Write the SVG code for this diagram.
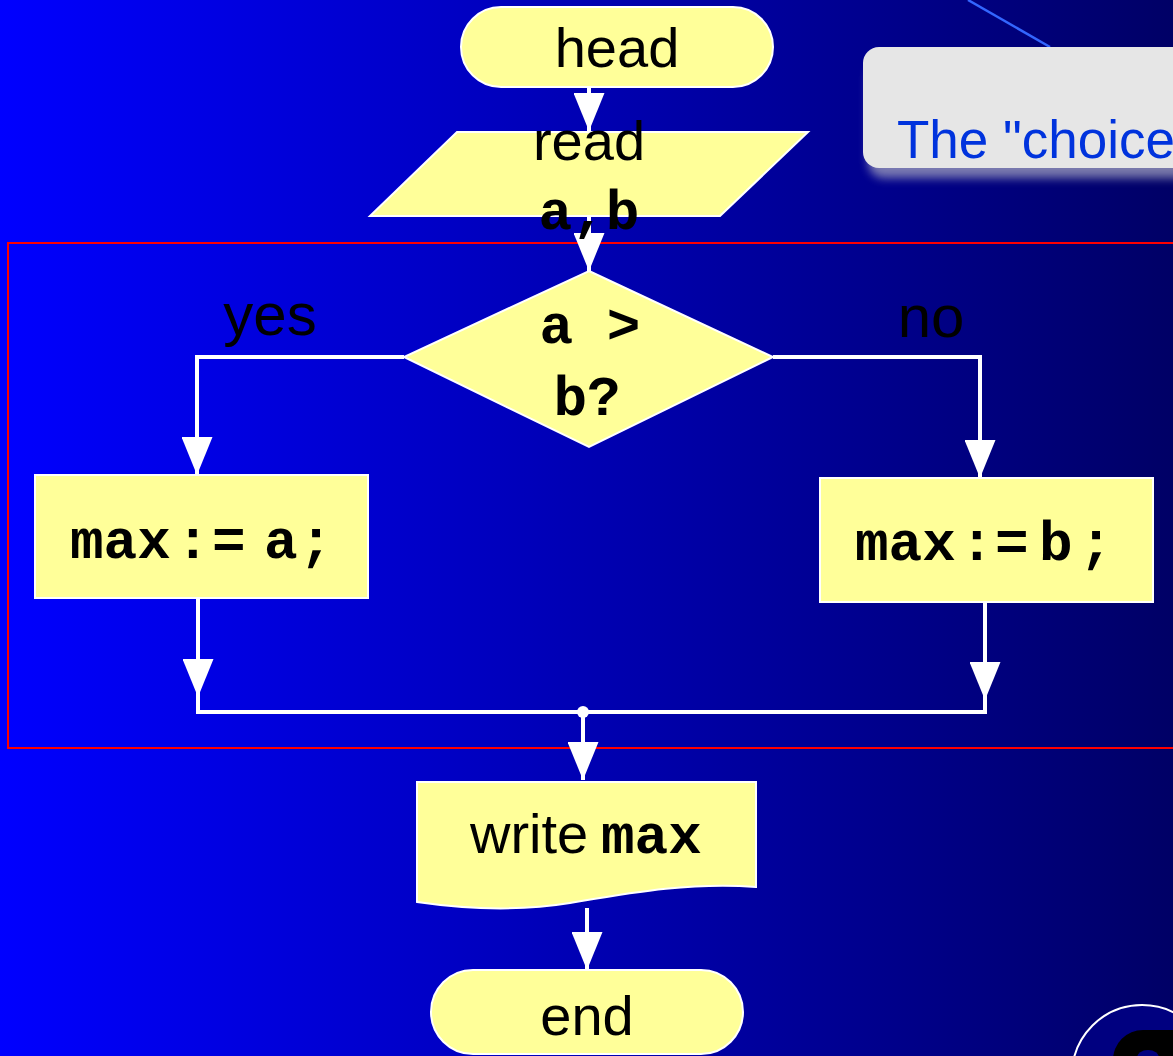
<svg xmlns="http://www.w3.org/2000/svg" width="1173" height="1056" viewBox="0 0 1173 1056">
  <defs>
    <linearGradient id="bg" x1="0" y1="0" x2="1" y2="0">
      <stop offset="0" stop-color="#0000FF"/>
      <stop offset="1" stop-color="#000066"/>
    </linearGradient>
    <filter id="soft" x="-10%" y="-30%" width="120%" height="160%">
      <feGaussianBlur stdDeviation="5"/>
    </filter>
    <marker id="arrow" viewBox="0 0 38 31" refX="38" refY="15.5" markerWidth="38" markerHeight="31" markerUnits="userSpaceOnUse" orient="auto">
      <path d="M0,0 L38,15.5 L0,31 Z" fill="#FFFFFF"/>
    </marker>
    <style>
      .shape { fill: #FFFF99; stroke: #FFFFFF; stroke-width: 2; }
      .sans { font-family: "Liberation Sans", Arial, sans-serif; font-size: 56px; fill: #000000; }
      .mono { font-family: "Liberation Mono", "Courier New", monospace; font-weight: bold; font-size: 56px; fill: #000000; }
      .label { font-family: "Liberation Sans", Arial, sans-serif; font-size: 60px; fill: #000000; }
      .wire { fill: none; stroke: #FFFFFF; stroke-width: 4; }
    </style>
  </defs>

  <!-- slide background -->
  <rect x="0" y="0" width="1173" height="1056" fill="url(#bg)"/>

  <!-- callout in the top right corner -->
  <g id="callout">
    <line x1="968" y1="0" x2="1050" y2="47" stroke="#3366FF" stroke-width="2.5"/>
    <rect x="868" y="62" width="340" height="116" rx="16" fill="#9999BB" opacity="0.8" filter="url(#soft)"/>
    <rect x="863" y="47" width="340" height="121" rx="16" fill="#E6E6E6"/>
    <text x="897" y="158" font-family="'Liberation Sans', Arial, sans-serif" font-size="53" fill="#0033DD">The "choice</text>
  </g>

  <!-- highlighted branching region -->
  <rect id="region" x="8" y="243" width="1180" height="505" fill="none" stroke="#FF0000" stroke-width="2"/>

  <!-- connectors -->
  <g id="connectors">
    <line class="wire" x1="589" y1="87" x2="589" y2="131" marker-end="url(#arrow)"/>
    <line class="wire" x1="589" y1="216" x2="589" y2="271" marker-end="url(#arrow)"/>
    <polyline class="wire" points="404,357 197,357 197,475" marker-end="url(#arrow)"/>
    <polyline class="wire" points="773,357 980,357 980,478" marker-end="url(#arrow)"/>
    <polyline class="wire" points="198,598 198,712 985,712 985,602"/>
    <line class="wire" x1="198" y1="640" x2="198" y2="697" marker-end="url(#arrow)"/>
    <line class="wire" x1="985" y1="640" x2="985" y2="700" marker-end="url(#arrow)"/>
    <circle cx="583" cy="712" r="6" fill="#FFFFFF"/>
    <line class="wire" x1="583" y1="712" x2="583" y2="780" marker-end="url(#arrow)"/>
    <line class="wire" x1="587" y1="908" x2="587" y2="970" marker-end="url(#arrow)"/>
  </g>

  <!-- start terminator -->
  <g id="head">
    <rect class="shape" x="461" y="7" width="312" height="80" rx="40"/>
    <text class="sans" x="617" y="67" text-anchor="middle">head</text>
  </g>

  <!-- input -->
  <g id="read">
    <polygon class="shape" points="457,132 808,132 720,216 370,216"/>
    <text class="sans" x="589" y="160" text-anchor="middle">read</text>
    <text class="mono" x="589" y="229" text-anchor="middle">a,b</text>
  </g>

  <!-- condition -->
  <g id="condition">
    <polygon class="shape" points="589,271 773,357 589,447 404,357"/>
    <text class="mono" x="590" y="343" text-anchor="middle">a &gt;</text>
    <text class="mono" x="587" y="415" text-anchor="middle">b?</text>
  </g>

  <!-- branch labels -->
  <text id="yes" class="label" x="270" y="335" text-anchor="middle">yes</text>
  <text id="no" class="label" x="931" y="337" text-anchor="middle">no</text>

  <!-- yes branch -->
  <g id="max-a">
    <rect class="shape" x="35" y="475" width="333" height="123"/>
    <text class="mono" y="558"><tspan x="70">max</tspan><tspan x="176">:</tspan><tspan x="212">=</tspan><tspan x="264">a</tspan><tspan x="299">;</tspan></text>
  </g>

  <!-- no branch -->
  <g id="max-b">
    <rect class="shape" x="820" y="478" width="333" height="124"/>
    <text class="mono" y="560"><tspan x="855">max</tspan><tspan x="960">:</tspan><tspan x="995">=</tspan><tspan x="1039">b</tspan><tspan x="1079">;</tspan></text>
  </g>

  <!-- output -->
  <g id="write">
    <path class="shape" d="M417,782 H756 V887 C690,882 630,893 570,903 C515,912 465,909 417,902 Z"/>
    <text y="853"><tspan class="sans" x="470" font-size="54">write </tspan><tspan class="mono" x="601">max</tspan></text>
  </g>

  <!-- end terminator -->
  <g id="end">
    <rect class="shape" x="431" y="970" width="312" height="84" rx="42"/>
    <text class="sans" x="587" y="1035" text-anchor="middle">end</text>
  </g>

  <!-- navigation button in the bottom right corner -->
  <g id="nav">
    <circle cx="1142" cy="1075" r="70" fill="#000080" stroke="#FFFFFF" stroke-width="2"/>
    <rect x="1113" y="1030" width="120" height="80" rx="30" fill="#000000"/>
    <ellipse cx="1148" cy="1058" rx="11" ry="8" fill="#000080"/>
  </g>
</svg>
